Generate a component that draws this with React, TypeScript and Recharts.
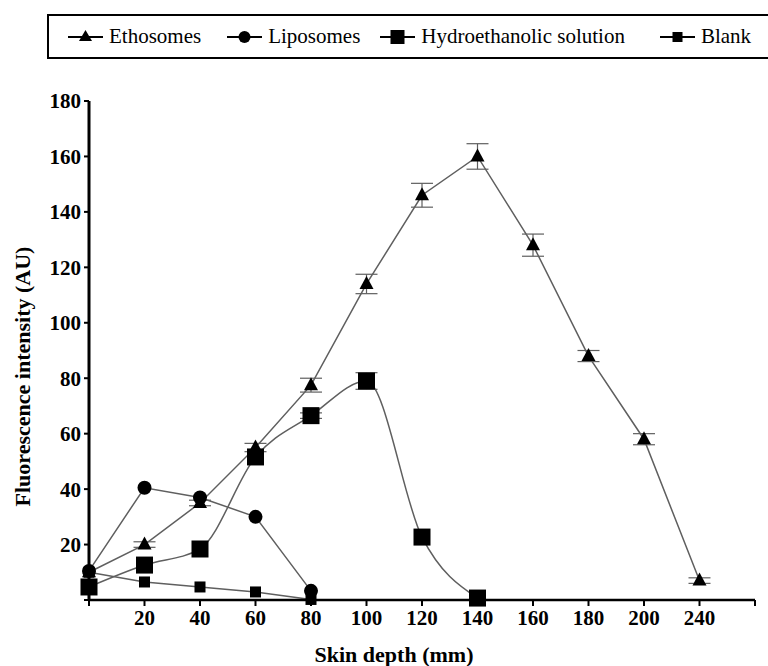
import React from 'react'
import { LineChart, Line, XAxis, YAxis, ErrorBar, Label } from 'recharts'

// Skin depth categories (evenly spaced on the axis, 240 follows 200)
const depthLabels = ['0', '20', '40', '60', '80', '100', '120', '140', '160', '180', '200', '240']
const yTicks = [0, 20, 40, 60, 80, 100, 120, 140, 160, 180]

// Fluorescence intensity (AU) per depth
const ethosomes = [10, 20, 35, 55, 77.5, 114, 146, 160, 128, 88, 58, 7]
const ethosomesErr = [0, 1, 1, 1.5, 2.5, 3.5, 4.3, 4.6, 4, 2, 2, 1]
const liposomes = [10.5, 40.5, 37, 30, 3.3]
const hydroethanolic = [4.7, 12.6, 18.4, 51.6, 66.5, 79, 22.7, 0.7]
const hydroethanolicErr = [0, 0, 0, 0, 1, 3, 0, 0]
const blank = [10, 6.5, 4.7, 2.9, 0.2]

const data = depthLabels.map((_, i) => ({
  pos: i,
  eth: ethosomes[i],
  ethErr: ethosomesErr[i],
  lip: liposomes[i],
  hydro: hydroethanolic[i],
  hydroErr: hydroethanolicErr[i],
  blank: blank[i],
}))

const xTicks = [...depthLabels.map((_, i) => i), depthLabels.length]

const FONT = 'Tinos, "Liberation Serif", Times, "Times New Roman", "Nimbus Roman", FreeSerif, "DejaVu Serif", serif'
const LINE = '#5f5f5f'

// ─── Markers ─────────────────────────────────────────────────────────────────

function triangle(p: any) {
  if (p.cx == null || p.cy == null) return <g key={p.index} />
  const { cx, cy } = p
  return <path key={p.index} d={`M${cx},${cy - 8}L${cx + 7},${cy + 5}L${cx - 7},${cy + 5}Z`} fill="#000" />
}

function circle(p: any) {
  if (p.cx == null || p.cy == null) return <g key={p.index} />
  return <circle key={p.index} cx={p.cx} cy={p.cy} r={7} fill="#000" />
}

const square = (size: number) => (p: any) => {
  if (p.cx == null || p.cy == null) return <g key={p.index} />
  return <rect key={p.index} x={p.cx - size / 2} y={p.cy - size / 2} width={size} height={size} fill="#000" />
}

const bigSquare = square(17)
const smallSquare = square(11)

// ─── Legend ──────────────────────────────────────────────────────────────────

function LegendMarker({ kind }: { kind: string }) {
  return (
    <svg width={35} height={20} style={{ display: 'block' }}>
      <line x1={0} y1={10} x2={35} y2={10} stroke="#000" strokeWidth={2} />
      {kind === 'tri' && <path d="M17.5,3L24,14L11,14Z" fill="#000" />}
      {kind === 'circle' && <circle cx={17.5} cy={10} r={6} fill="#000" />}
      {kind === 'big' && <rect x={10.5} y={3} width={14} height={14} fill="#000" />}
      {kind === 'small' && <rect x={12.5} y={5} width={10} height={10} fill="#000" />}
    </svg>
  )
}

const legendItems = [
  { label: 'Ethosomes', kind: 'tri', gap: 0 },
  { label: 'Liposomes', kind: 'circle', gap: 26 },
  { label: 'Hydroethanolic solution', kind: 'big', gap: 20 },
  { label: 'Blank', kind: 'small', gap: 35 },
]

function ChartLegend() {
  return (
    <div
      style={{
        position: 'absolute',
        left: 47,
        top: 14,
        width: 740,
        height: 41,
        border: '2px solid #000',
        display: 'flex',
        alignItems: 'center',
        paddingLeft: 19,
        fontFamily: FONT,
        fontSize: 21,
        color: '#000',
        boxSizing: 'content-box',
      }}
    >
      {legendItems.map((it) => (
        <div key={it.label} style={{ display: 'flex', alignItems: 'center', marginLeft: it.gap }}>
          <LegendMarker kind={it.kind} />
          <span style={{ marginLeft: 6, whiteSpace: 'nowrap' }}>{it.label}</span>
        </div>
      ))}
    </div>
  )
}

// ─── Axis titles ─────────────────────────────────────────────────────────────

function YTitle({ viewBox }: any) {
  const x = viewBox.x + 22
  const y = viewBox.y + viewBox.height / 2 + 26
  return (
    <text
      x={x}
      y={y}
      transform={`rotate(-90, ${x}, ${y})`}
      textAnchor="middle"
      dominantBaseline="central"
      style={{ fontFamily: FONT }}
      fontWeight="bold"
      fontSize={22}
      fill="#000"
    >
      Fluorescence intensity (AU)
    </text>
  )
}

function XTitle({ viewBox }: any) {
  return (
    <text
      x={viewBox.x + viewBox.width / 2 - 28}
      y={viewBox.y + 62}
      textAnchor="middle"
      style={{ fontFamily: FONT }}
      fontWeight="bold"
      fontSize={22}
      fill="#000"
    >
      Skin depth (mm)
    </text>
  )
}

// ─── Main ────────────────────────────────────────────────────────────────────

export default function App() {
  const tick = { fontFamily: FONT, fontWeight: 'bold', fontSize: 21, fill: '#000' }

  return (
    <div style={{ position: 'absolute', left: 0, top: 0, width: 768, height: 666, overflow: 'hidden', background: '#fff', fontFamily: FONT }}>
      <LineChart width={768} height={666} data={data} margin={{ top: 101, right: 13, bottom: 0, left: 0 }} style={{ fontFamily: FONT }}>
        <XAxis
          dataKey="pos"
          type="number"
          domain={[0, depthLabels.length]}
          ticks={xTicks}
          tickFormatter={(i) => (i === 0 ? '' : depthLabels[i] ?? '')}
          height={66}
          tick={tick}
          tickSize={6}
          tickMargin={4}
          interval={0}
          axisLine={{ stroke: '#000', strokeWidth: 2.5 }}
          tickLine={{ stroke: '#000', strokeWidth: 2 }}
        >
          <Label content={XTitle} />
        </XAxis>
        <YAxis
          domain={[0, 180]}
          ticks={yTicks}
          tickFormatter={(v) => (v === 0 ? '' : String(v))}
          width={89}
          tick={tick}
          tickSize={5}
          tickMargin={3}
          interval={0}
          axisLine={{ stroke: '#000', strokeWidth: 3 }}
          tickLine={{ stroke: '#000', strokeWidth: 2 }}
        >
          <Label content={YTitle} />
        </YAxis>
        <Line
          dataKey="blank"
          type="linear"
          stroke={LINE}
          strokeWidth={1.5}
          dot={smallSquare}
          activeDot={false}
          isAnimationActive={false}
        />
        <Line
          dataKey="eth"
          type="linear"
          stroke={LINE}
          strokeWidth={1.5}
          dot={triangle}
          activeDot={false}
          isAnimationActive={false}
        >
          <ErrorBar dataKey="ethErr" direction="y" width={11} stroke={LINE} strokeWidth={1.2} />
        </Line>
        <Line
          dataKey="hydro"
          type="monotone"
          stroke={LINE}
          strokeWidth={1.5}
          dot={bigSquare}
          activeDot={false}
          isAnimationActive={false}
        >
          <ErrorBar dataKey="hydroErr" direction="y" width={11} stroke={LINE} strokeWidth={1.2} />
        </Line>
        <Line
          dataKey="lip"
          type="linear"
          stroke={LINE}
          strokeWidth={1.5}
          dot={circle}
          activeDot={false}
          isAnimationActive={false}
        />
      </LineChart>
      <ChartLegend />
    </div>
  )
}
